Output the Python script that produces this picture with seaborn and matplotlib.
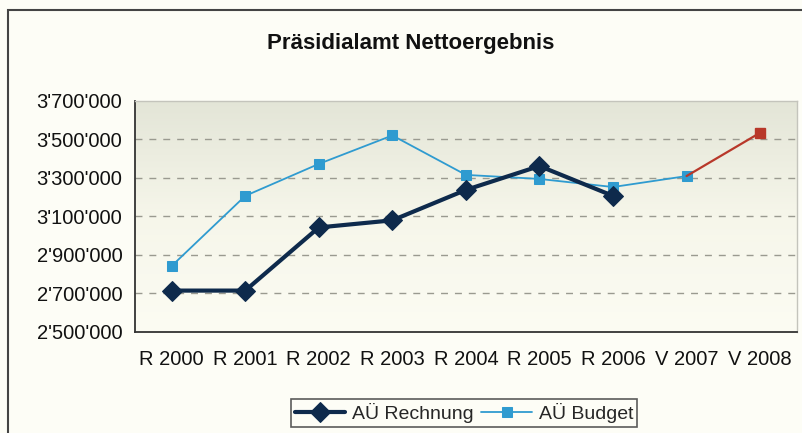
import numpy as np
import pandas as pd
import matplotlib
matplotlib.use("Agg")
import matplotlib.pyplot as plt
import matplotlib.ticker as mticker
from matplotlib.patches import Rectangle
import seaborn as sns

# Data
categories = ["R 2000", "R 2001", "R 2002", "R 2003", "R 2004", "R 2005", "R 2006", "V 2007", "V 2008"]
rechnung = [2715000, 2715000, 3043000, 3080000, 3238000, 3362000, 3207000]
budget = [2843000, 3207000, 3373000, 3521000, 3316000, 3295000, 3253000, 3310000]
budget_2008 = 3535000
y_ticks = [2500000, 2700000, 2900000, 3100000, 3300000, 3500000, 3700000]

sns.set_style("white")
plt.rcParams['font.family'] = ['Liberation Sans', 'DejaVu Sans']

df_r = pd.DataFrame({"pos": np.arange(len(rechnung)), "value": rechnung})
df_b = pd.DataFrame({"pos": np.arange(len(budget)), "value": budget})
df_v = pd.DataFrame({"pos": [len(budget) - 1, len(budget)], "value": [budget[-1], budget_2008]})

fig = plt.figure(figsize=(8.03, 4.33), dpi=100)
fig.patch.set_facecolor("#fdfdf6")
ax = fig.add_axes([0.168, 0.2333, 0.8244, 0.5335])

# gradient plot background
grad = np.linspace(0, 1, 256).reshape(-1, 1)
cmap = matplotlib.colors.LinearSegmentedColormap.from_list("bg", ["#e3e5d7", "#f6f6ea", "#fcfcf3"])
ax.imshow(grad, aspect="auto", cmap=cmap, extent=[-0.5, len(categories) - 0.5, y_ticks[0], y_ticks[-1]],
          origin="upper", zorder=0)

for y in y_ticks[1:-1]:
    ax.axhline(y, color="#9a9a90", lw=1, ls=(0, (5, 5)), zorder=1)

sns.lineplot(data=df_b, x="pos", y="value", ax=ax, color="#2f9bd0", lw=1.3, marker="s",
             markersize=6.5, markeredgecolor="#2f9bd0", label="AÜ Budget", zorder=3)
sns.lineplot(data=df_v, x="pos", y="value", ax=ax, color="#b8382a", lw=1.6, zorder=3)
ax.plot(df_v["pos"].iloc[-1], df_v["value"].iloc[-1], marker="s", markersize=7, color="#b8382a", zorder=4)
sns.lineplot(data=df_r, x="pos", y="value", ax=ax, color="#0e2a4c", lw=3, marker="D",
             markersize=10, markeredgecolor="#0e2a4c", label="AÜ Rechnung", zorder=5)

ax.set_xlim(-0.5, len(categories) - 0.5)
ax.set_ylim(y_ticks[0], y_ticks[-1])
ax.set_xticks(np.arange(len(categories)))
ax.set_xticklabels(categories, fontsize=14.5, color="#111111")
ax.set_xticks(np.arange(len(categories) + 1) - 0.5, minor=True)
ax.tick_params(axis="x", which="major", length=4, width=1, direction="out", pad=9, color="#333333")
ax.tick_params(axis="x", which="minor", length=6, width=1, direction="out", color="#333333")
ax.set_yticks(y_ticks)
ax.yaxis.set_major_formatter(mticker.FuncFormatter(lambda v, p: f"{int(v):,}".replace(",", "'")))
ax.tick_params(axis="y", length=6, width=1, direction="out", labelsize=14.5, pad=3, color="#333333",
               labelcolor="#111111")
ax.set_xlabel("")
ax.set_ylabel("")

for side in ["left", "bottom"]:
    ax.spines[side].set_color("#333333")
    ax.spines[side].set_linewidth(1.3)
for side in ["top", "right"]:
    ax.spines[side].set_color("#c4c4bc")
    ax.spines[side].set_linewidth(1)

fig.text(0.512, 0.9, "Präsidialamt Nettoergebnis", ha="center", va="center",
         fontsize=16, fontweight="bold", color="#111111")

handles, labels = ax.get_legend_handles_labels()
order = [labels.index("AÜ Rechnung"), labels.index("AÜ Budget")]
leg = ax.legend([handles[i] for i in order], [labels[i] for i in order], loc="upper center",
                bbox_to_anchor=(464 / 803, 1 - 399 / 433), bbox_transform=fig.transFigure,
                ncol=2, fontsize=14, frameon=True, fancybox=False, borderpad=0.2,
                handlelength=2.6, handletextpad=0.35, columnspacing=0.4, borderaxespad=0)
leg.get_frame().set_edgecolor("#333333")
leg.get_frame().set_linewidth(1.2)
leg.get_frame().set_facecolor("#fdfdf6")

# chart area border
fig.patches.append(Rectangle((8 / 803, -0.1), 1.2, 1 - 10 / 433 + 0.1, transform=fig.transFigure,
                             fill=False, edgecolor="#444444", lw=1.5))

fig.savefig("out.png", dpi=100, facecolor=fig.get_facecolor())
